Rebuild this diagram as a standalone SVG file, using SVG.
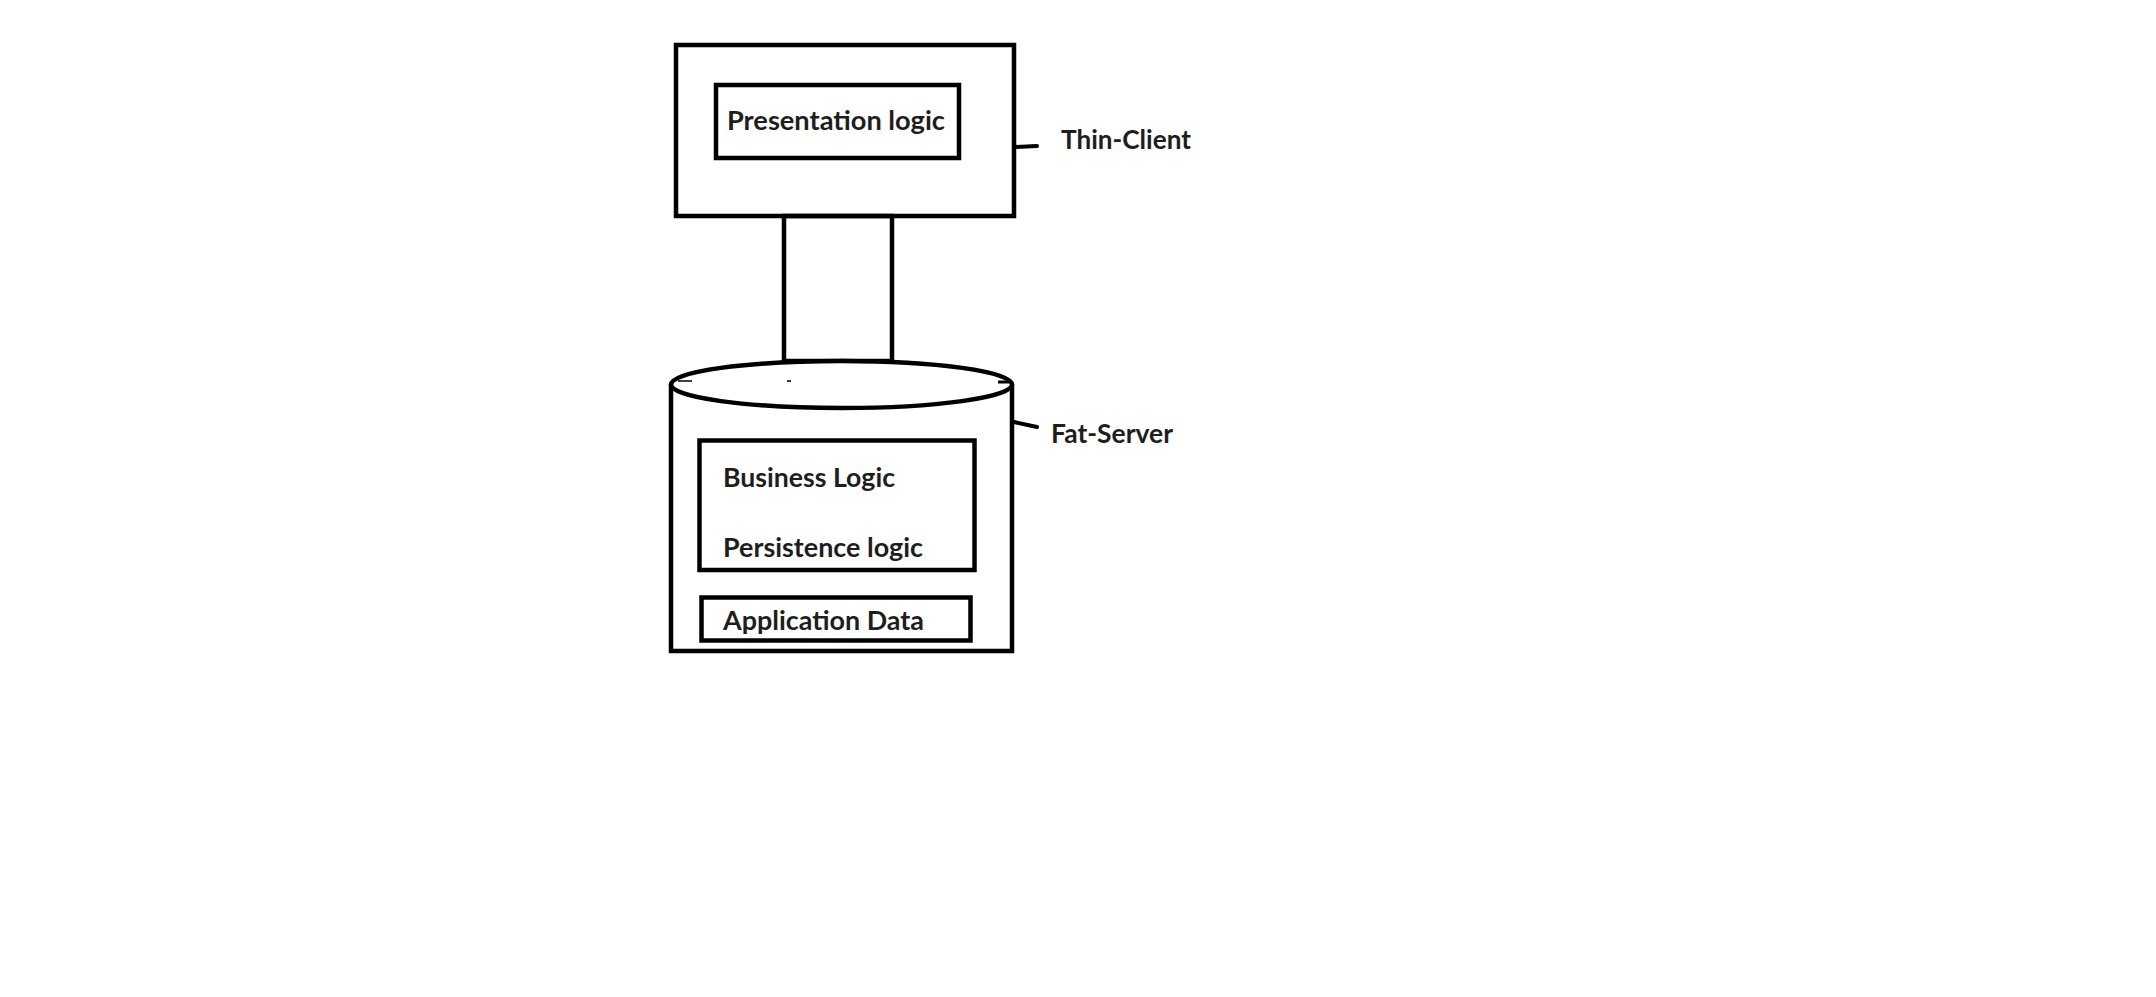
<svg xmlns="http://www.w3.org/2000/svg" width="2156" height="997" viewBox="0 0 2156 997">
<style>
.box{fill:none;stroke:#000;stroke-width:4.5}
.fillbox{fill:#fff;stroke:#000;stroke-width:4.5}
.lbl{font-family:Lato,"Liberation Sans",sans-serif;font-weight:bold;font-size:27px;fill:#1e1e1e}
.tick{stroke:#000;stroke-width:4;stroke-linecap:round;fill:none}
</style>
<rect width="2156" height="997" fill="#fff"/>
<g id="connectors">
  <rect class="box" x="784" y="216" width="108" height="145"/>
  <line class="tick" x1="1014" y1="147" x2="1037" y2="146"/>
  <line class="tick" x1="1014" y1="422" x2="1037" y2="427"/>
</g>
<g id="thin-client">
  <rect class="box" x="676" y="45" width="338" height="171"/>
  <g id="presentation-logic">
    <rect class="box" x="716" y="85" width="243" height="73"/>
    <text class="lbl" x="727" y="130" textLength="218" lengthAdjust="spacingAndGlyphs">Presentation logic</text>
  </g>
  <text class="lbl" x="1061" y="149" textLength="130" lengthAdjust="spacingAndGlyphs">Thin-Client</text>
</g>
<g id="fat-server">
  <path class="box" d="M671,384 L671,651 L1012,651 L1012,384"/>
  <ellipse class="fillbox" cx="841.5" cy="384.5" rx="170.5" ry="23.5"/>
  <line x1="678" y1="381" x2="692" y2="381" stroke="#000" stroke-width="1.5"/>
  <line x1="787" y1="381" x2="791" y2="381" stroke="#000" stroke-width="1.5"/>
  <line x1="998" y1="382" x2="1010" y2="382" stroke="#000" stroke-width="3"/>
  <g id="business-persistence">
    <rect class="box" x="699.5" y="440.5" width="275" height="129.5"/>
    <text class="lbl" x="723" y="486.5" textLength="172" lengthAdjust="spacingAndGlyphs">Business Logic</text>
    <text class="lbl" x="723" y="556.5" textLength="200" lengthAdjust="spacingAndGlyphs">Persistence logic</text>
  </g>
  <g id="application-data">
    <rect class="box" x="701.5" y="597.5" width="269" height="43"/>
    <text class="lbl" x="723" y="629.5" textLength="201" lengthAdjust="spacingAndGlyphs">Application Data</text>
  </g>
  <text class="lbl" x="1051" y="443" textLength="122" lengthAdjust="spacingAndGlyphs">Fat-Server</text>
</g>
</svg>
